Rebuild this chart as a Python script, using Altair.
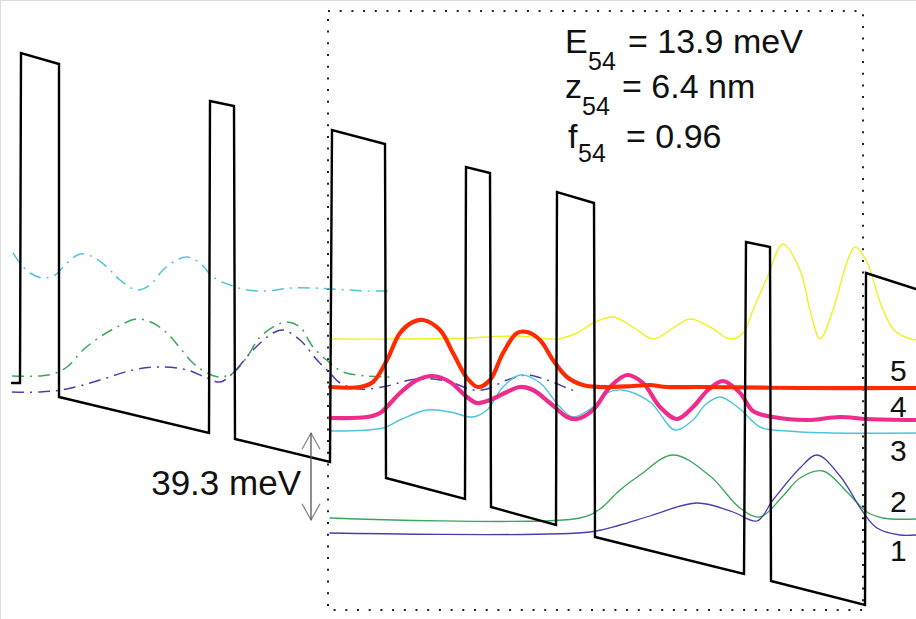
import altair as alt
import pandas as pd

W, H = 916, 619

# conduction band profile (screen-like coordinates)
band_x = [12, 20, 21, 59, 59, 209, 210, 234, 235, 330, 332, 385, 386, 465, 466, 490, 491, 556, 557, 594, 595, 744, 746, 770, 771, 865, 866, 916]
band_y = [383, 383, 53, 64, 397, 433, 101, 106, 439, 462, 130, 144, 478, 499, 167, 173, 507, 525, 192, 203, 537, 574, 242, 247, 581, 605, 273, 289]

# wavefunctions of the current period (solid)
yel_x = [330, 400, 467, 517, 557, 577, 593, 613, 633, 653, 673, 690, 710, 730, 743, 753, 767, 783, 800, 810, 820, 833, 847, 855, 867, 880, 893, 905, 916]
yel_y = [339, 339, 338, 336, 339, 333, 323, 317, 327, 339, 328, 319, 327, 339, 333, 310, 278, 244, 270, 310, 339, 310, 262, 247, 262, 302, 329, 337, 340]

red_x = [330, 360, 373, 387, 400, 413, 423, 440, 453, 467, 478, 490, 503, 517, 527, 540, 553, 567, 583, 600, 633, 650, 667, 700, 800, 916]
red_y = [387, 387, 382, 360, 333, 322, 320, 330, 353, 378, 387, 380, 353, 333, 332, 340, 360, 377, 385, 387, 386, 385, 387, 387, 388, 388]

mag_x = [330, 367, 380, 400, 417, 433, 450, 467, 477, 490, 507, 520, 533, 550, 567, 577, 593, 610, 627, 643, 660, 677, 693, 708, 723, 740, 753, 773, 807, 840, 867, 916]
mag_y = [418, 417, 413, 393, 380, 376, 382, 397, 403, 400, 392, 387, 390, 403, 417, 419, 410, 387, 375, 383, 407, 419, 407, 390, 381, 393, 411, 417, 420, 417, 419, 420]

cya_x = [330, 383, 400, 427, 450, 473, 487, 503, 520, 540, 560, 573, 593, 607, 622, 650, 675, 693, 705, 720, 740, 760, 787, 833, 916]
cya_y = [431, 428, 420, 410, 412, 417, 410, 387, 375, 383, 407, 417, 407, 393, 390, 402, 430, 420, 405, 397, 409, 427, 431, 433, 433]

grn_x = [330, 580, 600, 620, 640, 673, 710, 740, 760, 783, 800, 823, 847, 867, 883, 916]
grn_y = [518, 518, 509, 490, 475, 455, 476, 508, 517, 496, 478, 471, 492, 512, 518, 519]

blu_x = [330, 590, 620, 650, 697, 733, 757, 773, 800, 817, 840, 863, 877, 900, 916]
blu_y = [533, 532, 525, 516, 503, 512, 521, 500, 468, 455, 476, 512, 528, 535, 535]

# wavefunctions of the previous period (dash-dot)
cdd_x = [13, 20, 30, 43, 55, 67, 80, 93, 107, 120, 137, 150, 163, 177, 187, 200, 213, 230, 247, 267, 290, 313, 333, 367, 388]
cdd_y = [253, 263, 273, 278, 275, 263, 254, 257, 267, 280, 290, 285, 270, 260, 257, 263, 277, 285, 290, 291, 288, 288, 289, 291, 291]

gdd_x = [12, 40, 53, 67, 83, 100, 117, 137, 153, 167, 180, 193, 207, 220, 233, 247, 260, 277, 287, 300, 313, 330, 343, 367, 390]
gdd_y = [376, 376, 374, 367, 350, 337, 327, 319, 323, 333, 348, 363, 373, 377, 373, 357, 337, 325, 322, 327, 347, 363, 372, 376, 377]

bdd_x = [12, 40, 67, 100, 133, 160, 187, 207, 220, 233, 253, 273, 283, 300, 317, 330, 340, 360, 387, 410, 433, 453, 473, 487, 507, 527, 547, 567, 575]
bdd_y = [392, 392, 389, 380, 370, 367, 370, 378, 382, 373, 350, 333, 330, 340, 360, 373, 383, 389, 386, 380, 379, 383, 390, 389, 380, 375, 380, 388, 391]

# annotation texts
big_text = ["E", "= 13.9 meV", "z", "= 6.4 nm", "f", "= 0.96"]
big_tx = [565, 628, 565, 622, 568, 626]
big_ty = [53, 53, 98, 98, 148, 148]
sub_text = ["54", "54", "54"]
sub_tx = [588, 582, 578]
sub_ty = [70, 115, 162]
lvl_text = ["5", "4", "3", "2", "1"]
lvl_tx = [890, 890, 890, 890, 890]
lvl_ty = [381, 417, 461, 512, 561]
gap_text = ["39.3 meV"]
gap_tx = [301]
gap_ty = [495]

# arrow and dotted frame
arrow_x = [311, 311]
arrow_y = [433, 520]
frame = {"x": [328], "x2": [863], "y": [11], "y2": [610]}

Xs = alt.Scale(domain=[0, W], nice=False, zero=False)
Ys = alt.Scale(domain=[H, 0], nice=False, zero=False)


def df_xy(xs, ys):
    return pd.DataFrame({"x": xs, "y": ys, "o": list(range(len(xs)))})


def enc(ch):
    return ch.encode(
        x=alt.X("x:Q", scale=Xs, axis=None),
        y=alt.Y("y:Q", scale=Ys, axis=None),
        order="o:Q",
    )


def curve(xs, ys, color, width, dash=None, interp="catmull-rom"):
    kw = dict(color=color, strokeWidth=width, interpolate=interp, strokeCap="round")
    if dash:
        kw["strokeDash"] = dash
        kw["strokeCap"] = "butt"
    return enc(alt.Chart(df_xy(xs, ys)).mark_line(**kw))


DD = [12, 6, 2, 6]
layers = [
    curve(cdd_x, cdd_y, "#4ec3e0", 1.5, DD),
    curve(gdd_x, gdd_y, "#3aa65a", 1.5, DD),
    curve(bdd_x, bdd_y, "#4a3db0", 1.5, DD),
    curve(yel_x, yel_y, "#f4ef1e", 1.4),
    curve(grn_x, grn_y, "#3aa65a", 1.3),
    curve(blu_x, blu_y, "#4a3db0", 1.3),
    curve(cya_x, cya_y, "#4ec3e0", 1.4),
    curve(mag_x, mag_y, "#ee2c8c", 4.2),
    curve(red_x, red_y, "#ff2a00", 4.2),
    curve(band_x, band_y, "#000000", 2.4, interp="linear"),
]

frame_layer = alt.Chart(pd.DataFrame(frame)).mark_rect(
    filled=False, stroke="#222", strokeWidth=2, strokeDash=[2, 9.7]
).encode(
    x=alt.X("x:Q", scale=Xs, axis=None),
    x2="x2:Q",
    y=alt.Y("y:Q", scale=Ys, axis=None),
    y2="y2:Q",
)

arrow_df = pd.DataFrame({"x": arrow_x[:1], "y": arrow_y[:1], "y2": arrow_y[1:]})
arrow_line = alt.Chart(arrow_df).mark_rule(color="#555", strokeWidth=1.3).encode(
    x=alt.X("x:Q", scale=Xs, axis=None),
    y=alt.Y("y:Q", scale=Ys, axis=None),
    y2="y2:Q",
)
head_up = alt.Chart(pd.DataFrame({"x": arrow_x[:1], "y": arrow_y[:1]})).mark_point(
    shape="M -1 1.8 L 0 0 L 1 1.8", filled=False, color="#555", strokeWidth=1.3, size=324
).encode(x=alt.X("x:Q", scale=Xs, axis=None), y=alt.Y("y:Q", scale=Ys, axis=None))
head_dn = alt.Chart(pd.DataFrame({"x": arrow_x[1:], "y": arrow_y[1:]})).mark_point(
    shape="M -1 -1.8 L 0 0 L 1 -1.8", filled=False, color="#555", strokeWidth=1.3, size=324
).encode(x=alt.X("x:Q", scale=Xs, axis=None), y=alt.Y("y:Q", scale=Ys, axis=None))


def texts(t, xs, ys, size, align="left"):
    d = pd.DataFrame({"t": t, "x": xs, "y": ys})
    return alt.Chart(d).mark_text(
        font="Liberation Sans", fontSize=size, align=align, baseline="alphabetic", color="#111"
    ).encode(
        x=alt.X("x:Q", scale=Xs, axis=None),
        y=alt.Y("y:Q", scale=Ys, axis=None),
        text="t:N",
    )


chart = alt.layer(
    frame_layer,
    *layers,
    arrow_line,
    head_up,
    head_dn,
    texts(big_text, big_tx, big_ty, 34),
    texts(sub_text, sub_tx, sub_ty, 25),
    texts(lvl_text, lvl_tx, lvl_ty, 30),
    texts(gap_text, gap_tx, gap_ty, 35, align="right"),
).properties(
    width=W, height=H, padding=0, autosize=alt.AutoSizeParams(type="none")
).configure_view(stroke=None).configure(background="white")

chart.save("out.html", embed_options={"renderer": "svg", "actions": False})
